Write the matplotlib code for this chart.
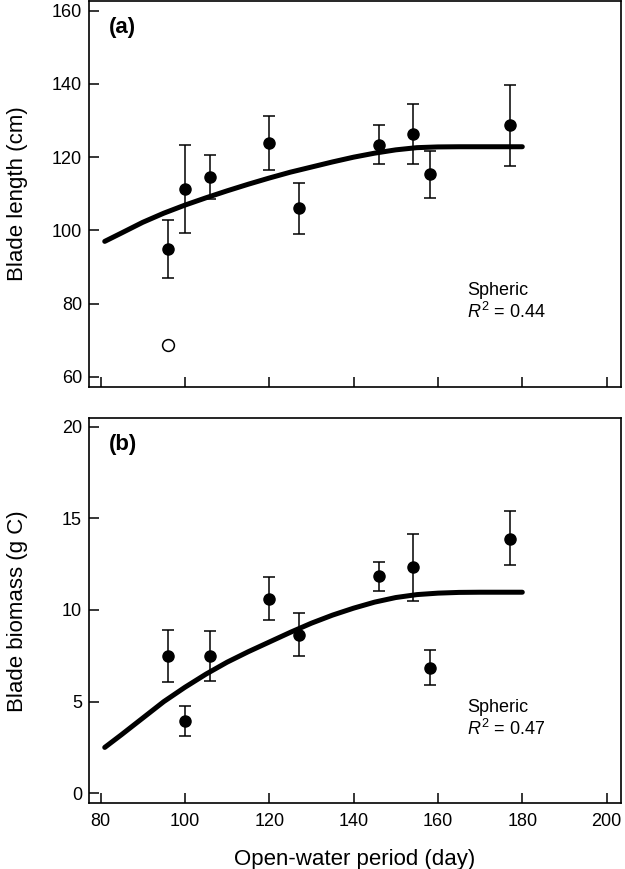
import matplotlib
matplotlib.use("Agg")
import matplotlib.pyplot as plt

plt.rcParams['font.family'] = ['Liberation Sans', 'DejaVu Sans']
plt.rcParams['mathtext.fontset'] = 'custom'
plt.rcParams['mathtext.rm'] = 'Liberation Sans'
plt.rcParams['mathtext.it'] = 'Liberation Sans:italic'

# ---- data ----
days = [96, 100, 106, 120, 127, 146, 154, 158, 177]

length_mean = [95.0, 111.3, 114.6, 124.0, 106.0, 123.4, 126.3, 115.4, 128.7]
length_hi = [102.8, 123.3, 120.5, 131.2, 113.0, 128.7, 134.5, 121.8, 139.7]
length_lo = [87.1, 99.3, 108.7, 116.6, 98.9, 118.1, 118.1, 108.9, 117.5]
outlier_day = [96]
outlier_length = [68.6]

biomass_mean = [7.50, 3.92, 7.50, 10.62, 8.64, 11.86, 12.34, 6.85, 13.90]
biomass_hi = [8.92, 4.78, 8.86, 11.80, 9.86, 12.63, 14.14, 7.81, 15.41]
biomass_lo = [6.06, 3.11, 6.12, 9.46, 7.48, 11.04, 10.47, 5.90, 12.43]

fit_days = [81, 85, 90, 95, 100, 105, 110, 115, 120, 125, 130, 135, 140,
            145, 150, 155, 160, 165, 170, 175, 180]
fit_length = [97.0, 99.3, 102.2, 104.7, 106.9, 108.9, 110.8, 112.6, 114.3,
              115.9, 117.3, 118.7, 120.0, 121.1, 122.0, 122.6, 122.8, 122.85,
              122.85, 122.85, 122.85]
fit_biomass = [2.5, 3.2, 4.1, 5.0, 5.78, 6.5, 7.15, 7.72, 8.25, 8.78, 9.28,
               9.72, 10.1, 10.43, 10.68, 10.84, 10.92, 10.96, 10.97, 10.97, 10.97]

x_ticks = [80, 100, 120, 140, 160, 180, 200]
len_ticks = [60, 80, 100, 120, 140, 160]
bio_ticks = [0, 5, 10, 15, 20]

fig = plt.figure(figsize=(6.25, 8.69), dpi=100)
ax1 = fig.add_axes([0.1424, 0.555, 0.9936 - 0.1424, 0.9988 - 0.555])
ax2 = fig.add_axes([0.1424, 0.0756, 0.9936 - 0.1424, 0.5186 - 0.0756])


def panel(ax, mean, hi, lo, fit, label, r2, ylim, yticks, ylabel):
    ax.plot(fit_days, fit, color='black', lw=3.6, solid_capstyle='round',
            solid_joinstyle='round', zorder=2)
    yerr = [[m - l for m, l in zip(mean, lo)], [h - m for m, h in zip(mean, hi)]]
    ax.errorbar(days, mean, yerr=yerr, fmt='none', ecolor='black',
                elinewidth=1.1, capsize=4, capthick=1.1, zorder=3)
    ax.plot(days, mean, 'o', color='black', ms=8, zorder=4)
    ax.set_xlim(77.27, 203.4)
    ax.set_ylim(*ylim)
    ax.set_xticks(x_ticks)
    ax.set_yticks(yticks)
    ax.tick_params(direction='in', length=7, width=1.1, labelsize=13, pad=5)
    ax.tick_params(axis='x', pad=7)
    for s in ax.spines.values():
        s.set_linewidth(1.2)
    ax.text(0.0376, 0.9326, label, transform=ax.transAxes, fontsize=16,
            fontweight='bold', va='center', ha='left')
    ax.text(0.710, 0.2378, 'Spheric', transform=ax.transAxes, fontsize=13,
            va='baseline', ha='left')
    ax.text(0.710, 0.1773, '$R^2$ = ' + r2, transform=ax.transAxes, fontsize=13,
            va='baseline', ha='left')
    ax.set_ylabel(ylabel, fontsize=16)


panel(ax1, length_mean, length_hi, length_lo, fit_length, '(a)', '0.44',
      (57.3, 162.65), len_ticks, 'Blade length (cm)')
ax1.plot(outlier_day, outlier_length, 'o', mfc='white', mec='black', mew=1.1,
         ms=8.5, zorder=4)
ax1.set_xticklabels([])

panel(ax2, biomass_mean, biomass_hi, biomass_lo, fit_biomass, '(b)', '0.47',
      (-0.55, 20.46), bio_ticks, 'Blade biomass (g C)')
ax2.set_xlabel('Open-water period (day)', fontsize=16)

for ax in (ax1, ax2):
    ax.yaxis.set_label_coords(-0.115, 0.5)
ax2.xaxis.set_label_coords(0.5, -0.12)

fig.savefig('out.png', dpi=100)
